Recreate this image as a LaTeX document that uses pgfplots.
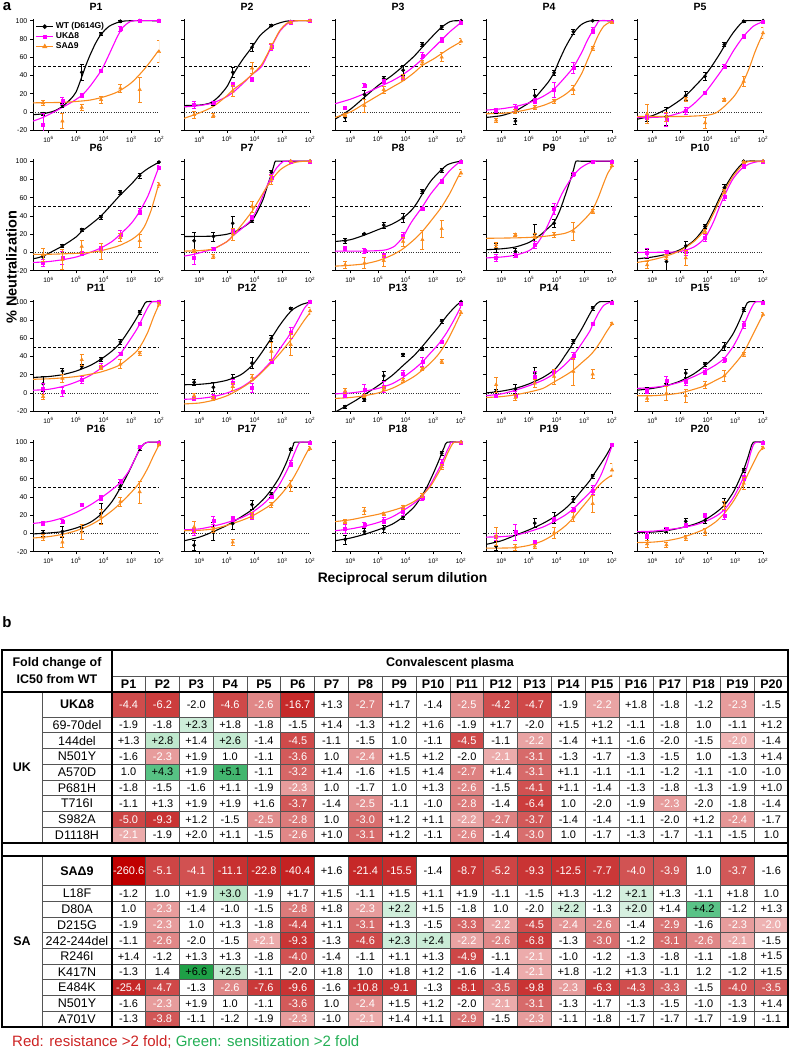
\documentclass[border=0pt]{standalone}
\usepackage{pgfplots}
\pgfplotsset{compat=1.18}
\usepackage{pgfplotstable}
\usepackage{fontspec}
\setmainfont{Liberation Sans}
\definecolor{cM}{RGB}{255,0,255}
\definecolor{cO}{RGB}{250,140,30}
\definecolor{redtxt}{RGB}{205,35,35}
\definecolor{greentxt}{RGB}{35,175,85}
\definecolor{gridc}{RGB}{85,85,85}

\pgfdeclareplotmark{cellN}{\pgfpathrectangle{\pgfpoint{-16.95pt}{-7.95pt}}{\pgfpoint{33.9pt}{15.9pt}}\pgfusepathqfill}
\pgfdeclareplotmark{cellU}{\pgfpathrectangle{\pgfpoint{-16.95pt}{-12.6pt}}{\pgfpoint{33.9pt}{25.2pt}}\pgfusepathqfill}
\pgfdeclareplotmark{cellS}{\pgfpathrectangle{\pgfpoint{-16.95pt}{-14.85pt}}{\pgfpoint{33.9pt}{29.7pt}}\pgfusepathqfill}

\pgfplotsset{colormap={fold}{
rgb255(0pt)=(192,0,0)
rgb255(221pt)=(196,34,34)
rgb255(244pt)=(198,42,42)
rgb255(252pt)=(201,52,52)
rgb255(255pt)=(204,62,62)
rgb255(256.5pt)=(207,74,74)
rgb255(257.5pt)=(211,92,92)
rgb255(258pt)=(216,110,110)
rgb255(258.4pt)=(224,135,135)
rgb255(258.7pt)=(231,156,156)
rgb255(259pt)=(238,178,178)
rgb255(261pt)=(255,255,255)
rgb255(263pt)=(214,240,224)
rgb255(264pt)=(185,230,200)
rgb255(265.2pt)=(90,195,135)
rgb255(267.6pt)=(30,160,70)
}}

\pgfplotsset{
 pan/.style={scale only axis, width=126pt, height=111.3pt, anchor=north west,
  xmin=-6.56, xmax=-2, ymin=-20, ymax=102,
  axis x line*=bottom, axis y line*=left,
  axis line style={line width=0.9pt},
  xtick={-6,-5,-4,-3,-2},
  xticklabels={10\textsuperscript{6},10\textsuperscript{5},10\textsuperscript{4},10\textsuperscript{3},10\textsuperscript{2}},
  ytick={-20,0,20,40,60,80,100}, yticklabels={},
  tick align=outside, major tick length=2.6pt, tick style={line width=0.9pt, black},
  xticklabel style={font=\fontsize{6.5}{7}\selectfont},
  yticklabel style={font=\fontsize{7}{8}\selectfont, xshift=0.5pt},
  x filter/.expression={-x},
  clip mode=individual,
  title style={font=\bfseries\fontsize{10.5}{12}\selectfont, at={(0.5,1)}, anchor=center, yshift=5.8pt},
 },
 ylab/.style={yticklabels={-20,0,20,40,60,80,100}},
 kd/.style={only marks, black, mark=*, mark size=1.7pt, error bars/.cd, y dir=both, y explicit, error bar style={line width=0.6pt}, error mark options={rotate=90, mark size=2pt, line width=0.6pt}},
 md/.style={only marks, cM, mark=square*, mark size=1.5pt, error bars/.cd, y dir=both, y explicit, error bar style={line width=0.6pt}, error mark options={rotate=90, mark size=2pt, line width=0.6pt}},
 od/.style={only marks, cO, mark=triangle*, mark size=2pt, error bars/.cd, y dir=both, y explicit, error bar style={line width=0.6pt}, error mark options={rotate=90, mark size=2pt, line width=0.6pt}},
 kc/.style={black, line width=1.1pt, smooth, tension=0.45, no marks},
 mc/.style={cM, line width=1.1pt, smooth, tension=0.45, no marks},
 oc/.style={cO, line width=1.1pt, smooth, tension=0.45, no marks},
}
\newcommand{\refl}{%
 \addplot[black, line width=0.8pt, dash pattern=on 3pt off 2pt] coordinates {(6.56,50)(2,50)};
 \addplot[black!80, line width=0.8pt, dash pattern=on 0.7pt off 1.6pt] coordinates {(6.56,0)(2,0)};}
\newcommand{\panel}[8]{%
\begin{axis}[pan, at={(#1pt,-#2pt)}, title={#3}, #5]
\refl
\addplot[kc] coordinates {#6};
\addplot[mc] coordinates {#7};
\addplot[oc] coordinates {#8};
\addplot[kd] table[x=L,y=k,y error=ke]{#4};
\addplot[md] table[x=L,y=m,y error=me]{#4};
\addplot[od] table[x=L,y=o,y error=oe]{#4};
\end{axis}}

\pgfplotstableread{
L k ke m me o oe
6.194 -2 2 -14 12 10 3
5.495 7 2 12 4 -10 8
4.796 43.5 9 18 2 5 3
4.097 85.5 2 45 2 13.5 4
3.398 99.4 1 91 3 26 4
2.699 100 0 100 0 24.5 14
2.0 100 0 100 0 66 12
}\datA
\pgfplotstableread{
L k ke m me o oe
6.194 8 2 7.7 4 -3 4
5.495 9 2 10 2 -4 2
4.796 43.5 5 30 2 22.7 6
4.097 71 4 36 2 48 6
3.398 94.7 1 71 3 72 3
2.699 99 1 98 2 98 1
2.0 100 0 100 0 100 0
}\datB
\pgfplotstableread{
L k ke m me o oe
6.194 -6 4 4.4 1 -3 2
5.495 19 5 29 2 7 7
4.796 36.5 3 33.6 2 24.5 4
4.097 45.7 5 37 2 38 3
3.398 74 2 62 3 54.5 2
2.699 93 2 79 3 60 5
2.0 100 0 98 2 77.5 3
}\datC
\pgfplotstableread{
L k ke m me o oe
6.194 1.5 3 1.5 2 -9 2
5.495 -10 3 4.4 4 1 2
4.796 18 7 12 3 5 2
4.097 43 3 24 8 12 2
3.398 88 3 48 6 24.5 5
2.699 100 0 89.5 3 70 2
2.0 100 0 99 1 98 1
}\datD
\pgfplotstableread{
L k ke m me o oe
6.194 -7.7 2 -5.5 2 -2 10
5.495 -5 10 -9 7 -5 5
4.796 18 5 1.5 4 14 2
4.097 39 4 21 2 -12 6
3.398 74 2 50 2 13.5 2
2.699 99.4 1 83 2 33.6 6
2.0 100 0 99 1 86.6 6
}\datE
\pgfplotstableread{
L k ke m me o oe
6.194 -5 2 -11 4 -2.6 7
5.495 7.3 2 -6 7 -8 11
4.796 25 2 -0.7 2 6.6 7
4.097 38.8 2 4.8 2 1 9
3.398 66 2 20 4 16.5 4
2.699 84 3 45 3 12.8 7
2.0 99 1 93 2 74 3
}\datF
\pgfplotstableread{
L k ke m me o oe
6.194 12.8 9 -5.5 7 1.8 2
5.495 17.6 5 4 2 -4.4 2
4.796 32 8 23 2 20 7
4.097 35 2 38.5 2 50.5 6
3.398 88 2 82 4 80 5
2.699 100 0 100 0 100 0
2.0 100 0 100 0 100 0
}\datG
\pgfplotstableread{
L k ke m me o oe
6.194 12.8 3 4.8 2 -13.6 4
5.495 20.5 1 1.8 3 -11.7 6
4.796 30 3 -3.3 2 -9 6
4.097 37.7 5 18.7 3 12 5
3.398 67 2 48 2 14 10
2.699 90 2 78 2 26 9
2.0 100 0 100 0 87 4
}\datH
\pgfplotstableread{
L k ke m me o oe
6.194 4.8 5 -6 4 8.4 3
5.495 1 4 -3.3 2 19.4 2
4.796 20 11 8.4 4 18 3
4.097 32 4 48 6 19.4 3
3.398 85 2 86 2 23 10
2.699 99 1 99 1 45 2
2.0 100 0 100 0 95 2
}\datI
\pgfplotstableread{
L k ke m me o oe
6.194 -1.5 5 -0.7 5 -13.6 4
5.495 -10 12 0.4 2 -5 3
4.796 7.3 5 0.4 3 -6 8
4.097 28.6 2 15.7 4 23 2
3.398 71 4 61.5 4 67 2
2.699 100 0 94.5 2 99 1
2.0 100 0 100 0 100 0
}\datJ
\pgfplotstableread{
L k ke m me o oe
6.194 10 8 4.4 6 -4 3
5.495 24 3 1.5 5 16 4
4.796 29 2 14.3 4 36.4 6
4.097 37 2 29 3 28 2
3.398 56 3 43 2 31.6 5
2.699 88.6 2 76 2 43.8 2
2.0 100 0 100 0 97 2
}\datK
\pgfplotstableread{
L k ke m me o oe
6.194 11.8 3 -6 2 -3 3
5.495 6.3 5 -4 2 -6 2
4.796 16 4 10.7 4 7 4
4.097 32.7 6 5.9 5 17 3
3.398 60 3 34.6 2 45.6 10
2.699 92.6 1 65.8 6 53 12
2.0 100 0 100 0 90 4
}\datL
\pgfplotstableread{
L k ke m me o oe
6.194 -15 2 -2 3 2.2 3
5.495 -7.5 2 3.3 6 -3 2
4.796 18.7 5 7 6 5 2
4.097 42 2 20.6 4 14 2
3.398 48.5 2 34.6 5 26.5 2
2.699 78.7 2 56 2 34.6 2
2.0 100 0 98 1 88 3
}\datM
\pgfplotstableread{
L k ke m me o oe
6.194 1.5 3 -3 2 9 8
5.495 4.4 5 -3 5 -5 3
4.796 21.7 6 18 6 10.6 4
4.097 24 2 23.5 2 18 8
3.398 56.6 2 41 4 23.5 15
2.699 93 2 75.7 2 20.6 5
2.0 100 0 99 1 76 2
}\datN
\pgfplotstableread{
L k ke m me o oe
6.194 4.4 2 2.2 3 -6 3
5.495 8.8 2 13.2 5 -0.4 8
4.796 21.7 4 11.8 3 -3 7
4.097 31.6 2 23.5 3 8.8 4
3.398 51 4 36.4 3 18.7 6
2.699 91.5 2 75 4 42.6 2
2.0 100 0 99 1 86 2
}\datO
\pgfplotstableread{
L k ke m me o oe
6.194 0.4 3 11.4 2 -4 3
5.495 2.2 6 13.2 2 -9.6 6
4.796 6 4 31.6 2 1.5 8
4.097 21.7 11 39 3 18 8
3.398 52 4 57 2 35 5
2.699 93.4 2 95 1 45.6 12
2.0 100 0 100 0 97 1
}\datP
\pgfplotstableread{
L k ke m me o oe
6.194 -13 5 1.5 4 7 6
5.495 2.2 10 14.3 4 4 3
4.796 10.7 6 16 3 -9.6 3
4.097 31.6 5 19 3 20 3
3.398 42.6 3 40 2 31.6 3
2.699 92.6 1 77 3 52 6
2.0 100 0 100 0 93 2
}\datQ
\pgfplotstableread{
L k ke m me o oe
6.194 -6.6 5 5 5 13 2
5.495 2.2 3 9.6 3 25 4
4.796 5 4 14.3 3 21.7 2
4.097 18 2 23.5 4 29 2
3.398 40 4 39 3 42 2
2.699 88 2 77 4 73 3
2.0 100 0 100 0 100 0
}\datR
\pgfplotstableread{
L k ke m me o oe
6.194 -14 5 -4 4 -3 10
5.495 0.7 3 1.5 9 -15 3
4.796 11.4 5 -9.6 2 -14 2
4.097 17 6 15.4 2 0.7 6
3.398 37.5 3 26.5 2 18 5
2.699 63 2 47.4 5 32.7 9
2.0 97 2 97 2 69.5 7
}\datS
\pgfplotstableread{
L k ke m me o oe
6.194 -4 3 -2.2 3 -11.4 4
5.495 3.3 2 5 2 -12.5 3
4.796 13.2 3 8.8 2 -5 3
4.097 14.3 3 20 2 1.5 4
3.398 34 4 20 5 31 4
2.699 69.5 2 61 3 55 7
2.0 100 0 99 1 94 2
}\datT

% fold-change table: label, colour value (0 = no colour)
\pgfplotstableread[row sep=\\]{
lab m\\
-4.4 -4.4\\ -6.2 -6.2\\ -2.0 0\\ -4.6 -4.6\\ -2.6 -2.6\\ -16.7 -16.7\\ +1.3 0\\ -2.7 -2.7\\ +1.7 0\\ -1.4 0\\ -2.5 -2.5\\ -4.2 -4.2\\ -4.7 -4.7\\ -1.9 0\\ -2.2 -2.2\\ +1.8 0\\ -1.8 0\\ -1.2 0\\ -2.3 -2.3\\ -1.5 0\\
}\UKh
\pgfplotstableread[row sep=\\]{
lab m\\
-1.9 0\\ -1.8 0\\ +2.3 2.3\\ +1.8 0\\ -1.8 0\\ -1.5 0\\ +1.4 0\\ -1.3 0\\ +1.2 0\\ +1.6 0\\ -1.9 0\\ +1.7 0\\ -2.0 0\\ +1.5 0\\ +1.2 0\\ -1.1 0\\ -1.8 0\\ 1.0 0\\ -1.1 0\\ +1.2 0\\
+1.3 0\\ +2.8 2.8\\ +1.4 0\\ +2.6 2.6\\ -1.4 0\\ -4.5 -4.5\\ -1.1 0\\ -1.5 0\\ 1.0 0\\ -1.1 0\\ -4.5 -4.5\\ -1.1 0\\ -2.2 -2.2\\ -1.4 0\\ +1.1 0\\ -1.6 0\\ -2.0 0\\ -1.5 0\\ -2.0 -2.0\\ -1.4 0\\
-1.6 0\\ -2.3 -2.3\\ +1.9 0\\ 1.0 0\\ -1.1 0\\ -3.6 -3.6\\ 1.0 0\\ -2.4 -2.4\\ +1.5 0\\ +1.2 0\\ -2.0 0\\ -2.1 -2.1\\ -3.1 -3.1\\ -1.3 0\\ -1.7 0\\ -1.3 0\\ -1.5 0\\ 1.0 0\\ -1.3 0\\ +1.4 0\\
1.0 0\\ +4.3 4.3\\ +1.9 0\\ +5.1 5.1\\ -1.1 0\\ -3.2 -3.2\\ +1.4 0\\ -1.6 0\\ +1.5 0\\ +1.4 0\\ -2.7 -2.7\\ +1.4 0\\ -3.1 -3.1\\ +1.1 0\\ -1.1 0\\ -1.1 0\\ -1.2 0\\ -1.1 0\\ -1.0 0\\ -1.0 0\\
-1.8 0\\ -1.5 0\\ -1.6 0\\ +1.1 0\\ -1.9 0\\ -2.3 -2.3\\ 1.0 0\\ -1.7 0\\ 1.0 0\\ +1.3 0\\ -2.6 -2.6\\ -1.5 0\\ -4.1 -4.1\\ +1.1 0\\ -1.4 0\\ -1.3 0\\ -1.8 0\\ -1.3 0\\ -1.9 0\\ +1.0 0\\
-1.1 0\\ +1.3 0\\ +1.9 0\\ +1.9 0\\ +1.6 0\\ -3.7 -3.7\\ -1.4 0\\ -2.5 -2.5\\ -1.1 0\\ -1.0 0\\ -2.8 -2.8\\ -1.4 0\\ -6.4 -6.4\\ 1.0 0\\ -2.0 0\\ -1.9 0\\ -2.3 -2.3\\ -2.0 0\\ -1.8 0\\ -1.4 0\\
-5.0 -5.0\\ -9.3 -9.3\\ +1.2 0\\ -1.5 0\\ -2.5 -2.5\\ -2.8 -2.8\\ 1.0 0\\ -3.0 -3.0\\ +1.2 0\\ +1.1 0\\ -2.2 -2.2\\ -2.7 -2.7\\ -3.7 -3.7\\ -1.4 0\\ -1.4 0\\ -1.1 0\\ -2.0 0\\ +1.2 0\\ -2.4 -2.4\\ -1.7 0\\
-2.1 -2.1\\ -1.9 0\\ +2.0 0\\ +1.1 0\\ -1.5 0\\ -2.6 -2.6\\ +1.0 0\\ -3.1 -3.1\\ +1.2 0\\ -1.1 0\\ -2.6 -2.6\\ -1.4 0\\ -3.0 -3.0\\ 1.0 0\\ -1.7 0\\ -1.3 0\\ -1.7 0\\ -1.1 0\\ -1.5 0\\ 1.0 0\\
}\UKb
\pgfplotstableread[row sep=\\]{
lab m\\
-260.6 -260.6\\ -5.1 -5.1\\ -4.1 -4.1\\ -11.1 -11.1\\ -22.8 -22.8\\ -40.4 -40.4\\ +1.6 0\\ -21.4 -21.4\\ -15.5 -15.5\\ -1.4 0\\ -8.7 -8.7\\ -5.2 -5.2\\ -9.3 -9.3\\ -12.5 -12.5\\ -7.7 -7.7\\ -4.0 -4.0\\ -3.9 -3.9\\ 1.0 0\\ -3.7 -3.7\\ -1.6 0\\
}\SAh
\pgfplotstableread[row sep=\\]{
lab m\\
-1.2 0\\ 1.0 0\\ +1.9 0\\ +3.0 3.0\\ -1.9 0\\ +1.7 0\\ +1.5 0\\ -1.1 0\\ +1.5 0\\ +1.1 0\\ +1.9 0\\ -1.1 0\\ -1.5 0\\ +1.3 0\\ -1.2 0\\ +2.1 2.1\\ +1.3 0\\ -1.1 0\\ +1.8 0\\ 1.0 0\\
1.0 0\\ -2.3 -2.3\\ -1.4 0\\ -1.0 0\\ -1.5 0\\ -2.8 -2.8\\ +1.8 0\\ -2.3 -2.3\\ +2.2 2.2\\ +1.5 0\\ -1.8 0\\ 1.0 0\\ -2.0 0\\ +2.2 2.2\\ -1.3 0\\ +2.0 2.0\\ +1.4 0\\ +4.2 4.2\\ -1.2 0\\ +1.3 0\\
-1.9 0\\ -2.3 -2.3\\ 1.0 0\\ +1.3 0\\ -1.8 0\\ -4.4 -4.4\\ +1.1 0\\ -3.1 -3.1\\ +1.3 0\\ -1.5 0\\ -3.3 -3.3\\ -2.2 -2.2\\ -4.5 -4.5\\ -2.4 -2.4\\ -2.6 -2.6\\ -1.4 0\\ -2.9 -2.9\\ -1.6 0\\ -2.3 -2.3\\ -2.0 -2.0\\
-1.1 0\\ -2.6 -2.6\\ -2.0 0\\ -1.5 0\\ +2.1 -2.1\\ -9.3 -9.3\\ -1.3 0\\ -4.6 -4.6\\ +2.3 2.3\\ +2.4 2.4\\ -2.2 -2.2\\ -2.6 -2.6\\ -6.8 -6.8\\ -1.3 0\\ -3.0 -3.0\\ -1.2 0\\ -3.1 -3.1\\ -2.6 -2.6\\ -2.1 -2.1\\ -1.5 0\\
+1.4 0\\ -1.2 0\\ +1.3 0\\ +1.3 0\\ -1.8 0\\ -4.0 -4.0\\ -1.4 0\\ -1.1 0\\ +1.1 0\\ +1.3 0\\ -4.9 -4.9\\ -1.1 0\\ -2.1 -2.1\\ -1.0 0\\ -1.2 0\\ -1.3 0\\ -1.8 0\\ -1.1 0\\ -1.8 0\\ +1.5 0\\
-1.3 0\\ 1.4 0\\ +6.6 6.6\\ +2.5 2.5\\ -1.1 0\\ -2.0 0\\ +1.8 0\\ 1.0 0\\ +1.8 0\\ +1.2 0\\ -1.6 0\\ -1.4 0\\ -2.1 -2.1\\ +1.8 0\\ -1.2 0\\ +1.3 0\\ -1.1 0\\ 1.2 0\\ -1.2 0\\ +1.5 0\\
-25.4 -25.4\\ -4.7 -4.7\\ -1.3 0\\ -2.6 -2.6\\ -7.6 -7.6\\ -9.6 -9.6\\ -1.6 0\\ -10.8 -10.8\\ -9.1 -9.1\\ -1.3 0\\ -8.1 -8.1\\ -3.5 -3.5\\ -9.8 -9.8\\ -2.3 -2.3\\ -6.3 -6.3\\ -4.3 -4.3\\ -3.3 -3.3\\ -1.5 0\\ -4.0 -4.0\\ -3.5 -3.5\\
-1.6 0\\ -2.3 -2.3\\ +1.9 0\\ 1.0 0\\ -1.1 0\\ -3.6 -3.6\\ 1.0 0\\ -2.4 -2.4\\ +1.5 0\\ +1.2 0\\ -2.0 0\\ -2.1 -2.1\\ -3.1 -3.1\\ -1.3 0\\ -1.7 0\\ -1.3 0\\ -1.5 0\\ -1.0 0\\ -1.3 0\\ +1.4 0\\
-1.3 0\\ -3.8 -3.8\\ -1.1 0\\ -1.2 0\\ -1.9 0\\ -2.3 -2.3\\ -1.0 0\\ -2.1 -2.1\\ +1.4 0\\ +1.1 0\\ -2.9 -2.9\\ -1.5 0\\ -2.3 -2.3\\ -1.1 0\\ -1.8 0\\ -1.7 0\\ -1.7 0\\ -1.7 0\\ -1.9 0\\ -1.1 0\\
}\SAb

\newcommand{\xh}{94.8+33.83*(\coordindex+1)}
\newcommand{\xb}{94.8+33.83*(\coordindex-20*floor((\coordindex+0.5)/20)+1)}
\newcommand{\yUK}{-(717+15.75*(floor((\coordindex+0.5)/20)+0.5))}
\newcommand{\ySA}{-(885.5+15.72*(floor((\coordindex+0.5)/20)+0.5))}

\tikzset{hd/.style={font=\bfseries\fontsize{12.5}{14}\selectfont, inner sep=0pt},
 nm/.style={font=\fontsize{12.5}{14}\selectfont, inner sep=0pt}}
\pgfplotsset{
 lblw/.style={draw=none, mark=none, point meta=explicit symbolic, nodes near coords,
  every node near coord/.append style={anchor=center, inner sep=0pt, font=\fontsize{11}{12}\selectfont, text=white},
  restrict expr to domain={\thisrow{m}}{-1000:-0.5}},
 lblk/.style={draw=none, mark=none, point meta=explicit symbolic, nodes near coords,
  every node near coord/.append style={anchor=center, inner sep=0pt, font=\fontsize{11}{12}\selectfont, text=black},
  restrict expr to domain={\thisrow{m}}{-0.5:1000}},
 cel/.style={scatter, only marks, scatter src=explicit, mark=#1},
}

\begin{document}
\begin{tikzpicture}
\useasboundingbox (0pt,0pt) rectangle (790pt,-1050pt);

% ---------------- panel a ----------------
\begin{axis}[pan, ylab, at={(33pt,-18.9pt)}, title={P1},
  legend style={at={(0.02,0.985)}, anchor=north west, draw=none, fill=none, inner sep=0pt,
   font=\bfseries\fontsize{8.5}{9}\selectfont, row sep=-1.5pt},
  legend cell align=left]
\addlegendimage{black, line width=1.1pt, mark=*, mark size=1.7pt}
\addlegendimage{cM, line width=1.1pt, mark=square*, mark size=1.5pt}
\addlegendimage{cO, line width=1.1pt, mark=triangle*, mark size=2pt}
\refl
\addplot[kc] coordinates {(6.56,-3)(6.2,-2)(5.8,1)(5.5,6)(5.2,14)(5,22)(4.8,38)(4.66,50)(4.5,62)(4.3,75)(4.1,85)(3.8,94)(3.4,99)(3,100)(2,100)};
\addplot[mc] coordinates {(6.56,-10)(6.2,-6)(5.8,0)(5.5,5)(5.2,10)(4.8,18)(4.5,28)(4.1,45)(3.9,57)(3.7,70)(3.5,83)(3.3,93)(3.1,98)(2.9,100)(2,100)};
\addplot[oc] coordinates {(6.56,10)(5.5,10.5)(5,11.5)(4.5,13)(4,16.5)(3.5,22)(3,32)(2.5,48)(2,68)};
\addplot[kd] table[x=L,y=k,y error=ke]{\datA};
\addplot[md] table[x=L,y=m,y error=me]{\datA};
\addplot[od] table[x=L,y=o,y error=oe]{\datA};
\legend{WT (D614G),UKΔ8,SAΔ9}
\end{axis}

\panel{184}{18.9}{P2}{\datB}{}
{(6.56,7)(6,7.5)(5.6,10)(5.3,17)(5,28)(4.8,40)(4.6,50)(4.4,59)(4.1,71)(3.8,84)(3.4,94)(3,98.5)(2.7,100)(2,100)}
{(6.56,5.5)(6,7)(5.5,10)(5,17)(4.8,21)(4.4,32)(4.1,41)(3.75,50)(3.4,71)(3.1,88)(2.85,96)(2.7,98.5)(2.5,100)(2,100)}
{(6.56,-7)(6,-1)(5.5,6)(5,18)(4.8,24)(4.4,33)(4.1,41)(3.75,52)(3.4,72)(3.1,89)(2.85,97)(2.7,99)(2.5,100)(2,100)}
\panel{335}{18.9}{P3}{\datC}{}
{(6.56,-8)(6,3)(5.5,16)(5,29)(4.5,40)(4.1,50)(3.7,61)(3.4,71)(3,84)(2.7,93)(2.4,99)(2.2,100)(2,100)}
{(6.56,9)(6,14)(5.5,20)(5,27)(4.5,34)(4.1,41)(3.7,50)(3.4,58)(3,70)(2.7,79)(2.4,88)(2,98)}
{(6.56,-6)(6,0)(5.5,9)(5,18)(4.5,27)(4.1,34)(3.7,43)(3.4,51)(3,58)(2.7,64)(2.4,70)(2,77)}
\panel{486}{18.9}{P4}{\datD}{}
{(6.56,-6)(6,-4)(5.5,1)(5,10)(4.8,15)(4.6,22)(4.3,33)(4.1,43)(3.9,57)(3.7,70)(3.5,81)(3.3,90)(3.1,96)(2.9,99)(2.7,100)(2,100)}
{(6.56,2)(6,3.5)(5.5,6)(5,10)(4.5,17)(4.1,25)(3.7,38)(3.4,49)(3.1,65)(2.9,78)(2.7,89)(2.55,96)(2.45,100)(2,100)}
{(6.56,-2)(6,-1.5)(5.5,0)(5,3)(4.5,7)(4.1,12)(3.7,19)(3.4,27)(3.1,42)(2.9,56)(2.7,70)(2.5,84)(2.3,94)(2.1,98)(2,98.5)}
\panel{637}{18.9}{P5}{\datE}{}
{(6.56,-8)(6,-4)(5.5,3)(5,13)(4.8,18)(4.5,27)(4.1,40)(3.86,50)(3.6,62)(3.4,72)(3.1,86)(2.8,97)(2.6,100)(2,100)}
{(6.56,-6)(6,-6)(5.5,-5)(5,-1)(4.8,2)(4.5,9)(4.1,21)(3.75,35)(3.4,50)(3.05,68)(2.7,83)(2.35,94)(2,99)}
{(6.56,-5)(5,-5)(4.5,-4.5)(4,-3.5)(3.7,-1)(3.4,6)(3.2,12)(3,19)(2.7,34)(2.5,48)(2.3,65)(2.15,76)(2,86)}

\panel{33}{159.4}{P6}{\datF}{ylab}
{(6.56,-7)(6.2,-4)(5.5,7)(5,17)(4.8,23)(4.5,30)(4.1,40)(3.7,53)(3.4,63)(3,75)(2.7,85)(2.4,92)(2,99)}
{(6.56,-11)(6,-10)(5.5,-8)(5,-5)(4.5,0)(4.1,5)(3.7,12)(3.4,20)(3,32)(2.7,45)(2.4,62)(2.2,78)(2,94)}
{(6.56,-2)(6,-2)(5,-1)(4.5,0)(4.1,2)(3.7,5)(3.4,8)(3,14)(2.7,21)(2.5,30)(2.3,45)(2.15,60)(2,76)}
\panel{184}{159.4}{P7}{\datG}{}
{(6.56,17.5)(6,17.6)(5.5,18)(5,20)(4.7,23)(4.4,28)(4.1,35)(3.9,45)(3.7,58)(3.55,72)(3.4,86)(3.3,96)(3.25,100)(3,100)(2,100)}
{(6.56,-4)(6.2,-2)(5.5,4)(5,12)(4.8,18)(4.4,28)(4.1,37)(3.8,55)(3.6,70)(3.4,83)(3.2,93)(3,99)(2.85,100)(2,100)}
{(6.56,1.5)(6,2)(5.5,4)(5,12)(4.8,18)(4.4,33)(4.1,45)(3.8,60)(3.6,70)(3.4,79)(3.1,90)(2.8,96)(2.5,99)(2.2,100)(2,100)}
\panel{335}{159.4}{P8}{\datH}{}
{(6.56,12)(6,14)(5.5,19)(5,25)(4.5,31)(4.1,38)(3.8,46)(3.6,54)(3.4,64)(3.1,78)(2.8,88)(2.5,96)(2.2,99)(2,100)}
{(6.56,1.5)(6,1.5)(5.5,1.5)(5,2)(4.7,3)(4.4,7)(4.1,17)(3.8,33)(3.4,50)(3.1,64)(2.7,79)(2.4,90)(2.1,98)(2,100)}
{(6.56,-15)(6,-14)(5.5,-12.5)(5,-9)(4.5,-3)(4.1,4)(3.7,14)(3.4,23)(3,38)(2.7,50)(2.4,65)(2.2,77)(2,89)}
\panel{486}{159.4}{P9}{\datI}{}
{(6.56,3)(6,4)(5.5,6)(5,11)(4.6,19)(4.3,27)(4.1,33)(3.9,45)(3.7,62)(3.5,80)(3.38,92)(3.3,100)(3.1,100)(2,100)}
{(6.56,-6)(6,-5)(5.5,-3)(5,2)(4.7,10)(4.4,25)(4.1,45)(3.8,65)(3.5,80)(3.2,91)(2.9,97)(2.6,100)(2,100)}
{(6.56,15.5)(5.5,16)(5,16.5)(4.5,17.5)(4.1,19)(3.7,21)(3.4,25)(3.1,33)(2.85,41)(2.7,47)(2.5,60)(2.3,76)(2.15,87)(2,94)}
\panel{637}{159.4}{P10}{\datJ}{}
{(6.56,-7)(6,-5)(5.5,-2)(5,3)(4.5,13)(4.1,28)(3.8,45)(3.6,58)(3.4,70)(3.1,85)(2.8,96)(2.6,100)(2,100)}
{(6.56,0)(5.5,0.3)(5,1)(4.5,6)(4.1,16)(3.8,33)(3.6,48)(3.4,62)(3.1,80)(2.8,91)(2.5,97)(2.2,99.5)(2,100)}
{(6.56,-11)(6,-8)(5.5,-4)(5,2)(4.5,12)(4.1,25)(3.8,42)(3.6,55)(3.4,67)(3.1,83)(2.8,94)(2.6,99)(2.4,100)(2,100)}

\panel{33}{299.9}{P11}{\datK}{ylab}
{(6.56,17)(6,18)(5.5,20)(5,24)(4.5,30)(4.1,37)(3.7,46)(3.4,55)(3.1,68)(2.85,80)(2.7,88)(2.55,96)(2.45,100)(2,100)}
{(6.56,3)(6,4)(5.5,7)(5,12)(4.5,19)(4.1,27)(3.7,35)(3.4,43)(3.1,56)(2.8,70)(2.6,82)(2.4,94)(2.25,100)(2,100)}
{(6.56,15)(6,15.5)(5.5,16.5)(5,18)(4.5,20.5)(4.1,23)(3.7,27)(3.4,31)(3.1,38)(2.8,46)(2.6,55)(2.4,67)(2.2,83)(2,97)}
\panel{184}{299.9}{P12}{\datL}{}
{(6.56,9)(6,9.5)(5.5,11)(5,14)(4.5,20)(4.1,30)(3.8,42)(3.6,51)(3.4,60)(3.1,74)(2.8,86)(2.6,92)(2.3,97)(2,99.5)}
{(6.56,-7)(6,-6)(5.5,-4)(5,0)(4.5,6)(4.1,14)(3.8,22)(3.4,35)(3.1,48)(2.8,61)(2.6,71)(2.4,82)(2.2,93)(2,100)}
{(6.56,-12)(6,-11)(5.5,-8)(5,-3)(4.5,5)(4.1,13)(3.8,21)(3.4,33)(3.1,43)(2.8,54)(2.6,62)(2.4,71)(2.2,80)(2,88)}
\panel{335}{299.9}{P13}{\datM}{}
{(6.56,-21)(6.2,-15)(5.8,-8)(5.5,-2)(5,8)(4.5,19)(4.1,30)(3.7,41)(3.4,51)(3.1,62)(2.8,73)(2.5,85)(2.2,95)(2,100)}
{(6.56,-1)(6,0)(5.5,2)(5,5)(4.5,10)(4.1,17)(3.7,26)(3.4,34)(3.1,44)(2.8,54)(2.5,67)(2.2,83)(2,95)}
{(6.56,-6)(6,-5)(5.5,-3)(5,0)(4.5,5)(4.1,11)(3.7,18)(3.4,25)(3.1,33)(2.8,43)(2.5,57)(2.2,75)(2,88)}
\panel{486}{299.9}{P14}{\datN}{}
{(6.56,0)(6,2)(5.5,5)(5,10)(4.5,17)(4.1,25)(3.9,32)(3.7,41)(3.5,50)(3.4,55)(3.1,70)(2.85,84)(2.7,92)(2.55,98)(2.45,100)(2,100)}
{(6.56,-3)(6,-1)(5.5,3)(5,8)(4.5,14)(4.1,21)(3.7,31)(3.4,41)(3.1,54)(2.8,68)(2.7,75)(2.5,87)(2.3,96)(2.1,99)(2,99)}
{(6.56,-5)(6,-4)(5.5,-2)(5,1)(4.5,5)(4.1,12)(3.7,19)(3.4,25)(3.1,33)(2.8,41)(2.6,48)(2.4,57)(2.2,67)(2,76)}
\panel{637}{299.9}{P15}{\datO}{}
{(6.56,3)(6,5)(5.5,8)(5,13)(4.5,21)(4.1,30)(3.7,41)(3.4,51)(3.1,64)(2.9,76)(2.7,90)(2.6,97)(2.5,100)(2,100)}
{(6.56,5)(6,6)(5.5,8)(5,12)(4.5,18)(4.1,24)(3.7,31)(3.4,38)(3.1,50)(2.9,61)(2.7,74)(2.5,88)(2.35,97)(2.25,100)(2,100)}
{(6.56,-3)(6,-3)(5.5,-2)(5,0)(4.5,4)(4.1,8)(3.7,14)(3.4,19)(3.1,29)(2.8,40)(2.6,50)(2.4,62)(2.2,74)(2,86)}

\panel{33}{440.4}{P16}{\datP}{ylab}
{(6.56,-0.5)(6,0.5)(5.5,2)(5,6)(4.5,12)(4.1,21)(3.7,35)(3.4,50)(3.1,67)(2.85,83)(2.7,92)(2.55,98)(2.4,100)(2,100)}
{(6.56,11)(6,13)(5.5,17)(5,23)(4.5,31)(4.1,39)(3.7,48)(3.4,56)(3.1,68)(2.85,83)(2.7,92)(2.55,98)(2.4,100)(2,100)}
{(6.56,-5)(6,-3.5)(5.5,-1)(5,3)(4.5,9)(4.1,16)(3.7,25)(3.4,33)(3.1,42)(2.8,52)(2.6,61)(2.4,72)(2.2,85)(2,97)}
\panel{184}{440.4}{P17}{\datQ}{}
{(6.56,-8)(6,-4)(5.5,2)(5,9)(4.5,18)(4.1,26)(3.7,37)(3.4,48)(3.1,62)(2.85,78)(2.7,90)(2.6,97)(2.55,100)(2,100)}
{(6.56,4)(6,5)(5.5,8)(5,12)(4.5,17)(4.1,23)(3.7,32)(3.4,41)(3.1,54)(2.85,68)(2.7,78)(2.55,89)(2.45,96)(2.35,100)(2,100)}
{(6.56,3)(6,3.5)(5.5,5)(5,9)(4.5,14)(4.1,19)(3.7,26)(3.4,32)(3.1,41)(2.8,52)(2.6,61)(2.4,72)(2.2,84)(2,95)}
\panel{335}{440.4}{P18}{\datR}{}
{(6.56,-8)(6,-5)(5.5,-1)(5,4)(4.5,10)(4.1,18)(3.7,29)(3.4,42)(3.2,53)(3,66)(2.8,80)(2.7,88)(2.6,95)(2.5,100)(2,100)}
{(6.56,3)(6,5)(5.5,8)(5,12)(4.5,18)(4.1,25)(3.7,33)(3.4,41)(3.1,54)(2.9,65)(2.7,77)(2.5,91)(2.4,97)(2.35,100)(2,100)}
{(6.56,13)(6,15)(5.5,18)(5,21)(4.5,25)(4.1,29)(3.7,35)(3.4,42)(3.1,52)(2.9,62)(2.7,73)(2.5,87)(2.35,96)(2.25,100)(2,100)}
\panel{486}{440.4}{P19}{\datS}{}
{(6.56,-12)(6,-8)(5.5,-2)(5,4)(4.5,11)(4.1,18)(3.7,27)(3.4,36)(3.1,47)(2.8,58)(2.7,63)(2.5,72)(2.2,86)(2,97)}
{(6.56,-4)(6,-3.5)(5.5,-2)(5,2)(4.5,7)(4.1,13)(3.7,20)(3.4,27)(3.1,36)(2.8,45)(2.6,53)(2.4,64)(2.2,79)(2,96)}
{(6.56,-16)(6,-16)(5.5,-15.5)(5,-13)(4.5,-8)(4.1,-1)(3.7,8)(3.4,17)(3.1,28)(2.8,39)(2.6,48)(2.4,55)(2.2,60)(2,64)}
\panel{637}{440.4}{P20}{\datT}{}
{(6.56,1)(6,1.5)(5.5,3)(5,6)(4.5,10)(4.1,15)(3.7,23)(3.4,31)(3.1,44)(2.9,56)(2.7,70)(2.55,83)(2.45,93)(2.35,100)(2,100)}
{(6.56,2)(6,2.5)(5.5,4)(5,6)(4.5,9)(4.1,13)(3.7,19)(3.4,26)(3.1,38)(2.9,49)(2.7,62)(2.55,76)(2.45,88)(2.35,97)(2.25,100)(2,100)}
{(6.56,-10)(6,-9.5)(5.5,-8)(5,-5)(4.5,0)(4.1,5)(3.7,13)(3.4,22)(3.1,34)(2.9,44)(2.7,55)(2.5,68)(2.3,80)(2.15,89)(2,94)}

\node[font=\bfseries\fontsize{15}{17}\selectfont] at (7pt,-7pt) {a};
\node[rotate=90, font=\bfseries\fontsize{14.5}{16}\selectfont] at (11.5pt,-267.5pt) {\% Neutralization};
\node[font=\bfseries\fontsize{13.8}{16}\selectfont] at (402.5pt,-579pt) {Reciprocal serum dilution};

% ---------------- panel b ----------------
\node[font=\bfseries\fontsize{15}{17}\selectfont] at (7pt,-622pt) {b};
\begin{axis}[at={(0pt,-1050pt)}, anchor=south west, x=1pt, y=1pt, xmin=0, xmax=790, ymin=-1050, ymax=0,
  hide axis, clip=false, colormap name=fold, point meta min=-261, point meta max=6.6]
\addplot[cel=cellU] table[x expr={\xh}, y expr={-704.5}, meta=m]{\UKh};
\addplot[cel=cellN] table[x expr={\xb}, y expr={\yUK}, meta=m]{\UKb};
\addplot[cel=cellS] table[x expr={\xh}, y expr={-870.75}, meta=m]{\SAh};
\addplot[cel=cellN] table[x expr={\xb}, y expr={\ySA}, meta=m]{\SAb};
\addplot[lblw] table[x expr={\xh}, y expr={-704.5}, meta=lab]{\UKh};
\addplot[lblk] table[x expr={\xh}, y expr={-704.5}, meta=lab]{\UKh};
\addplot[lblw] table[x expr={\xb}, y expr={\yUK}, meta=lab]{\UKb};
\addplot[lblk] table[x expr={\xb}, y expr={\yUK}, meta=lab]{\UKb};
\addplot[lblw] table[x expr={\xh}, y expr={-870.75}, meta=lab]{\SAh};
\addplot[lblk] table[x expr={\xh}, y expr={-870.75}, meta=lab]{\SAh};
\addplot[lblw] table[x expr={\xb}, y expr={\ySA}, meta=lab]{\SAb};
\addplot[lblk] table[x expr={\xb}, y expr={\ySA}, meta=lab]{\SAb};
\end{axis}

% grid lines
\begin{scope}[line width=0.8pt, gridc]
\draw (111.7pt,-676pt) -- (788pt,-676pt);
\foreach \k in {1,...,19} {
 \draw ({(111.7+33.83*\k)*1pt},-676pt) -- ({(111.7+33.83*\k)*1pt},-843pt);
 \draw ({(111.7+33.83*\k)*1pt},-856pt) -- ({(111.7+33.83*\k)*1pt},-1027pt);}
\draw (42pt,-692pt) -- (42pt,-843pt);
\draw (42pt,-856pt) -- (42pt,-1027pt);
\foreach \y in {717,732.75,748.5,764.25,780,795.75,811.5,827.25,885.5,901.22,916.94,932.66,948.38,964.1,979.82,995.54,1011.26}
 \draw (42pt,{-\y*1pt}) -- (788pt,{-\y*1pt});
\end{scope}
\begin{scope}[line width=1.8pt, black]
\draw (2pt,-650pt) rectangle (788pt,-1027pt);
\draw (2pt,-692pt) -- (788pt,-692pt);
\draw (2pt,-843pt) -- (788pt,-843pt);
\draw (2pt,-856pt) -- (788pt,-856pt);
\draw (111.7pt,-650pt) -- (111.7pt,-843pt);
\draw (111.7pt,-856pt) -- (111.7pt,-1027pt);
\end{scope}

% table text
\node[hd] at (57pt,-663pt) {Fold change of};
\node[hd] at (57pt,-679pt) {IC50 from WT};
\node[hd] at (450pt,-663pt) {Convalescent plasma};
\foreach \k in {1,...,20} \node[hd] at ({(94.8+33.83*\k)*1pt},-684pt) {P\k};
\node[hd] at (22pt,-767.5pt) {UK};
\node[hd] at (22pt,-941.5pt) {SA};
\node[hd] at (77pt,-704.5pt) {UKΔ8};
\foreach \n [count=\r] in {69-70del,144del,N501Y,A570D,P681H,T716I,S982A,D1118H}
 \node[nm] at (77pt,{-(717+15.75*(\r-0.5))*1pt}) {\n};
\node[hd] at (77pt,-870.75pt) {SAΔ9};
\foreach \n [count=\r] in {L18F,D80A,D215G,242-244del,R246I,K417N,E484K,N501Y,A701V}
 \node[nm] at (77pt,{-(885.5+15.72*(\r-0.5))*1pt}) {\n};
\node[anchor=west, inner sep=0pt, font=\fontsize{15}{17}\selectfont] at (12pt,-1042pt)
 {\textcolor{redtxt}{Red: resistance >2 fold;} \textcolor{greentxt}{Green: sensitization >2 fold}};
\end{tikzpicture}
\end{document}
